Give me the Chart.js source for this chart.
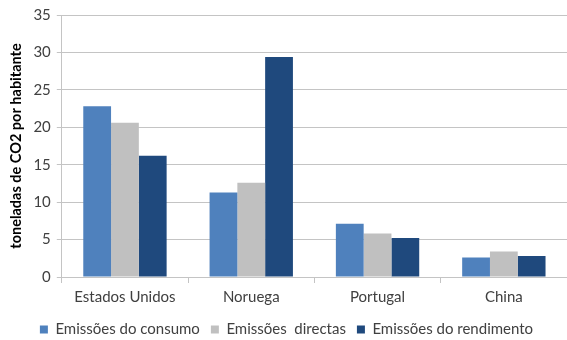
<!DOCTYPE html>
<html lang="pt">
<head>
    <meta charset="UTF-8">
    <title>Emissões de CO2 por habitante</title>
    <script src="https://cdn.jsdelivr.net/npm/chart.js"></script>
    <style>
        html, body { margin: 0; padding: 0; background: #fff; }
        #wrap { width: 567px; height: 340px; }
    </style>
</head>
<body>
    <div id="wrap"><canvas id="co2Chart" width="567" height="340"></canvas></div>

    <script>
        // países e valores (toneladas de CO2 por habitante)
        const paises = ['Estados Unidos', 'Noruega', 'Portugal', 'China'];
        const emissoesConsumo = [22.8, 11.3, 7.1, 2.6];
        const emissoesDirectas = [20.6, 12.6, 5.8, 3.4];
        const emissoesRendimento = [16.2, 29.4, 5.2, 2.8];

        const fonte = 'Lato, "Open Sans", sans-serif';
        const cinzaTexto = '#404040';
        const cinzaGrelha = '#c4c4c4';

        new Chart(document.getElementById('co2Chart'), {
            type: 'bar',
            data: {
                labels: paises,
                datasets: [
                    { label: 'Emissões do consumo', data: emissoesConsumo, backgroundColor: '#4f81bd' },
                    { label: 'Emissões  directas', data: emissoesDirectas, backgroundColor: '#c0c0c0' },
                    { label: 'Emissões do rendimento', data: emissoesRendimento, backgroundColor: '#1f497d' }
                ]
            },
            options: {
                responsive: false,
                animation: false,
                layout: { padding: { top: 9, right: 0, left: 6, bottom: -7 } },
                datasets: {
                    bar: { barPercentage: 1, categoryPercentage: 0.66 }
                },
                plugins: {
                    tooltip: { enabled: false },
                    legend: {
                        position: 'bottom',
                        labels: {
                            font: { family: fonte, size: 15 },
                            color: cinzaTexto,
                            boxWidth: 8,
                            boxHeight: 8,
                            padding: 11
                        }
                    }
                },
                scales: {
                    x: {
                        grid: {
                            offset: true,
                            drawOnChartArea: false,
                            drawTicks: true,
                            tickLength: 6,
                            color: cinzaGrelha
                        },
                        border: { color: cinzaGrelha },
                        ticks: {
                            font: { family: fonte, size: 15 },
                            color: cinzaTexto,
                            padding: 5
                        }
                    },
                    y: {
                        min: 0,
                        max: 35,
                        ticks: {
                            stepSize: 5,
                            font: { family: fonte, size: 15 },
                            color: cinzaTexto,
                            padding: 6
                        },
                        grid: { color: cinzaGrelha, tickLength: 5 },
                        border: { color: cinzaGrelha },
                        title: {
                            display: true,
                            text: 'toneladas de CO2 por habitante',
                            font: { family: fonte, size: 14.5, weight: 'bold' },
                            color: '#000',
                            padding: 2
                        }
                    }
                }
            }
        });
    </script>
</body>
</html>
